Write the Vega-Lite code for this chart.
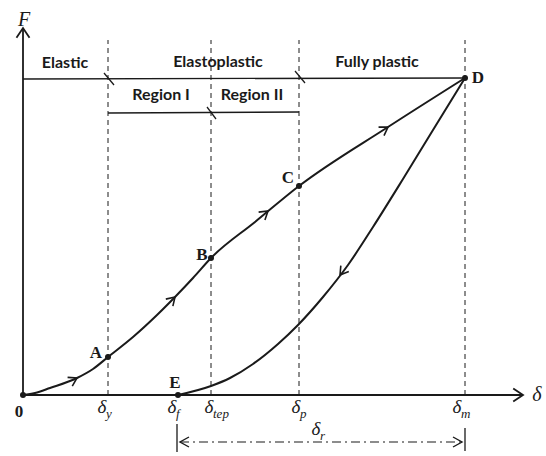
{
  "$schema": "https://vega.github.io/schema/vega-lite/v6.json",
  "width": 546,
  "height": 456,
  "autosize": {"type": "none"},
  "padding": 0,
  "background": "white",
  "config": {"view": {"stroke": null}},
  "datasets": {
    "loading": [
      {"x": 0, "y": 0}, {"x": 12, "y": 2}, {"x": 27, "y": 7}, {"x": 54, "y": 17}, {"x": 70, "y": 26},
      {"x": 85, "y": 38}, {"x": 110, "y": 58}, {"x": 134, "y": 80}, {"x": 152, "y": 98}, {"x": 170, "y": 117},
      {"x": 188, "y": 137}, {"x": 232, "y": 173}, {"x": 276, "y": 209}, {"x": 365, "y": 268}, {"x": 442, "y": 317}
    ],
    "unloading": [
      {"x": 155, "y": 0}, {"x": 188, "y": 9}, {"x": 207, "y": 17}, {"x": 230, "y": 31}, {"x": 255, "y": 51},
      {"x": 275, "y": 70}, {"x": 300, "y": 98}, {"x": 325, "y": 130}, {"x": 350, "y": 168}, {"x": 380, "y": 216},
      {"x": 410, "y": 265}, {"x": 442, "y": 317}
    ],
    "dashed": [
      {"x": 85, "y": 0, "x2": 85, "y2": 355},
      {"x": 188, "y": 0, "x2": 188, "y2": 355},
      {"x": 276, "y": 0, "x2": 276, "y2": 355},
      {"x": 442, "y": 0, "x2": 442, "y2": 355}
    ],
    "thin": [
      {"x": 0, "y": 316, "x2": 442, "y2": 317},
      {"x": 85, "y": 282, "x2": 276, "y2": 283},
      {"x": 81, "y": 322, "x2": 91, "y2": 310},
      {"x": 272, "y": 324, "x2": 282, "y2": 312},
      {"x": 184, "y": 288, "x2": 193, "y2": 276},
      {"x": 154, "y": -29, "x2": 154, "y2": -57},
      {"x": 442, "y": -33, "x2": 442, "y2": -56}
    ],
    "axes": [
      {"x": 0, "y": 0, "x2": 0, "y2": 367},
      {"x": 0, "y": 0, "x2": 500, "y2": 0}
    ],
    "dashdot": [
      {"x": 157, "y": -47, "x2": 439, "y2": -47}
    ],
    "dots": [
      {"x": 0, "y": 0}, {"x": 85, "y": 38}, {"x": 188, "y": 137}, {"x": 276, "y": 209}, {"x": 442, "y": 317}, {"x": 155, "y": 0}
    ],
    "arrows": [
      {"id": "a1", "x": 54, "y": 17},
      {"id": "a2", "x": 152, "y": 98},
      {"id": "a3", "x": 245, "y": 184},
      {"id": "a4", "x": 365, "y": 268},
      {"id": "u1", "x": 317, "y": 120},
      {"id": "ax", "x": 500, "y": 0},
      {"id": "ay", "x": 0, "y": 367},
      {"id": "dl", "x": 157, "y": -47},
      {"id": "dr", "x": 439, "y": -47}
    ],
    "regions": [
      {"x": 42, "y": 327, "label": "Elastic"},
      {"x": 195, "y": 328, "label": "Elastoplastic"},
      {"x": 354, "y": 328, "label": "Fully plastic"},
      {"x": 138, "y": 295, "label": "Region I"},
      {"x": 229, "y": 295, "label": "Region II"}
    ],
    "letters": [
      {"x": 73, "y": 37, "label": "A"},
      {"x": 179, "y": 135, "label": "B"},
      {"x": 265, "y": 212, "label": "C"},
      {"x": 455, "y": 312, "label": "D"},
      {"x": 152, "y": 7, "label": "E"},
      {"x": -4, "y": -22, "label": "0"}
    ],
    "ticks": [
      {"x": 79, "y": -18, "label": "δ", "sub": "y"},
      {"x": 149, "y": -18, "label": "δ", "sub": "f"},
      {"x": 186, "y": -18, "label": "δ", "sub": "tep"},
      {"x": 273, "y": -18, "label": "δ", "sub": "p"},
      {"x": 434, "y": -18, "label": "δ", "sub": "m"},
      {"x": 293, "y": -40, "label": "δ", "sub": "r"}
    ],
    "axislabels": [
      {"x": 1, "y": 375, "label": "F"},
      {"x": 514, "y": 0, "label": "δ"}
    ]
  },
  "encoding": {
    "x": {"field": "x", "type": "quantitative", "scale": {"domain": [-23, 523], "nice": false, "zero": false}, "axis": null},
    "y": {"field": "y", "type": "quantitative", "scale": {"domain": [-61, 395], "nice": false, "zero": false}, "axis": null}
  },
  "layer": [
    {
      "data": {"name": "dashed"},
      "mark": {"type": "rule", "color": "#1a1a1a", "strokeWidth": 1, "strokeDash": [5, 4]},
      "encoding": {"x2": {"field": "x2"}, "y2": {"field": "y2"}}
    },
    {
      "data": {"name": "thin"},
      "mark": {"type": "rule", "color": "#1a1a1a", "strokeWidth": 1.3},
      "encoding": {"x2": {"field": "x2"}, "y2": {"field": "y2"}}
    },
    {
      "data": {"name": "axes"},
      "mark": {"type": "rule", "color": "#1a1a1a", "strokeWidth": 1.8},
      "encoding": {"x2": {"field": "x2"}, "y2": {"field": "y2"}}
    },
    {
      "data": {"name": "dashdot"},
      "mark": {"type": "rule", "color": "#1a1a1a", "strokeWidth": 1.2, "strokeDash": [9, 4, 2, 4]},
      "encoding": {"x2": {"field": "x2"}, "y2": {"field": "y2"}}
    },
    {
      "data": {"name": "loading"},
      "mark": {"type": "line", "color": "#1a1a1a", "strokeWidth": 2, "interpolate": "monotone"},
      "encoding": {}
    },
    {
      "data": {"name": "unloading"},
      "mark": {"type": "line", "color": "#1a1a1a", "strokeWidth": 2, "interpolate": "monotone"},
      "encoding": {}
    },
    {
      "data": {"name": "dots"},
      "mark": {"type": "point", "shape": "circle", "filled": true, "color": "#1a1a1a", "size": 36, "opacity": 1},
      "encoding": {}
    },
    {
      "data": {"name": "arrows"},
      "transform": [{"filter": "datum.id == 'a1'"}],
      "mark": {"type": "point", "shape": "M-1.6,-1L0,0L-1.6,1", "filled": false, "color": "#1a1a1a", "strokeWidth": 1.6, "size": 100, "opacity": 1, "angle": -28},
      "encoding": {}
    },
    {
      "data": {"name": "arrows"},
      "transform": [{"filter": "datum.id == 'a2'"}],
      "mark": {"type": "point", "shape": "M-1.6,-1L0,0L-1.6,1", "filled": false, "color": "#1a1a1a", "strokeWidth": 1.6, "size": 100, "opacity": 1, "angle": -45},
      "encoding": {}
    },
    {
      "data": {"name": "arrows"},
      "transform": [{"filter": "datum.id == 'a3'"}],
      "mark": {"type": "point", "shape": "M-1.6,-1L0,0L-1.6,1", "filled": false, "color": "#1a1a1a", "strokeWidth": 1.6, "size": 100, "opacity": 1, "angle": -39},
      "encoding": {}
    },
    {
      "data": {"name": "arrows"},
      "transform": [{"filter": "datum.id == 'a4'"}],
      "mark": {"type": "point", "shape": "M-1.6,-1L0,0L-1.6,1", "filled": false, "color": "#1a1a1a", "strokeWidth": 1.6, "size": 100, "opacity": 1, "angle": -33},
      "encoding": {}
    },
    {
      "data": {"name": "arrows"},
      "transform": [{"filter": "datum.id == 'u1'"}],
      "mark": {"type": "point", "shape": "M-1.6,-1L0,0L-1.6,1", "filled": false, "color": "#1a1a1a", "strokeWidth": 1.6, "size": 100, "opacity": 1, "angle": 127},
      "encoding": {}
    },
    {
      "data": {"name": "arrows"},
      "transform": [{"filter": "datum.id == 'ax'"}],
      "mark": {"type": "point", "shape": "M-1.5,-1L0,0L-1.5,1", "filled": false, "color": "#1a1a1a", "strokeWidth": 1.8, "size": 170, "opacity": 1, "angle": 0},
      "encoding": {}
    },
    {
      "data": {"name": "arrows"},
      "transform": [{"filter": "datum.id == 'ay'"}],
      "mark": {"type": "point", "shape": "M-1.5,-1L0,0L-1.5,1", "filled": false, "color": "#1a1a1a", "strokeWidth": 1.8, "size": 170, "opacity": 1, "angle": -90},
      "encoding": {}
    },
    {
      "data": {"name": "arrows"},
      "transform": [{"filter": "datum.id == 'dl'"}],
      "mark": {"type": "point", "shape": "M-1.8,-1L0,0L-1.8,1", "filled": false, "color": "#1a1a1a", "strokeWidth": 1.4, "size": 100, "opacity": 1, "angle": 180},
      "encoding": {}
    },
    {
      "data": {"name": "arrows"},
      "transform": [{"filter": "datum.id == 'dr'"}],
      "mark": {"type": "point", "shape": "M-1.8,-1L0,0L-1.8,1", "filled": false, "color": "#1a1a1a", "strokeWidth": 1.4, "size": 100, "opacity": 1, "angle": 0},
      "encoding": {}
    },
    {
      "data": {"name": "regions"},
      "mark": {"type": "text", "font": "Lato", "fontWeight": "bold", "fontSize": 16, "color": "#1a1a1a", "align": "center", "baseline": "alphabetic"},
      "encoding": {"text": {"field": "label"}}
    },
    {
      "data": {"name": "letters"},
      "mark": {"type": "text", "font": "Liberation Serif", "fontWeight": "bold", "fontSize": 17, "color": "#1a1a1a", "align": "center", "baseline": "alphabetic"},
      "encoding": {"text": {"field": "label"}}
    },
    {
      "data": {"name": "ticks"},
      "mark": {"type": "text", "font": "Liberation Serif", "fontStyle": "italic", "fontSize": 19, "color": "#1a1a1a", "align": "center", "baseline": "alphabetic"},
      "encoding": {"text": {"field": "label"}}
    },
    {
      "data": {"name": "ticks"},
      "mark": {"type": "text", "font": "Liberation Serif", "fontStyle": "italic", "fontSize": 13, "color": "#1a1a1a", "align": "left", "baseline": "alphabetic", "dx": 4, "dy": 5},
      "encoding": {"text": {"field": "sub"}}
    },
    {
      "data": {"name": "axislabels"},
      "mark": {"type": "text", "font": "Liberation Serif", "fontStyle": "italic", "fontSize": 20, "color": "#1a1a1a", "align": "center", "baseline": "middle"},
      "encoding": {"text": {"field": "label"}}
    }
  ]
}
